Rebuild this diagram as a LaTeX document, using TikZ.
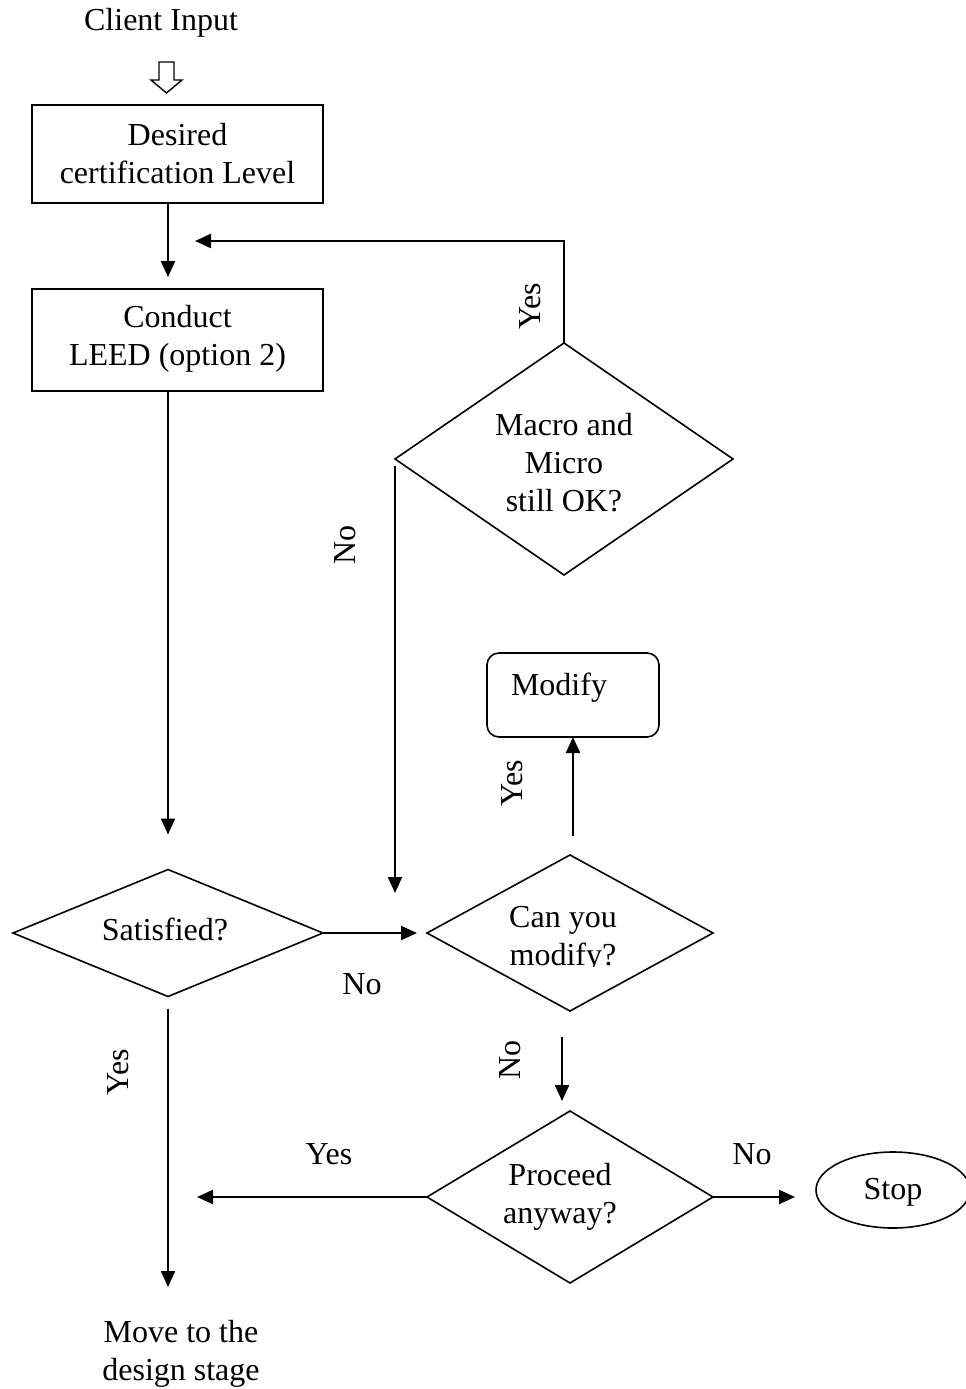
\documentclass[tikz,border=0pt]{standalone}
\usepackage{fontspec}
\setmainfont{Liberation Serif}
\usetikzlibrary{shapes.geometric,arrows.meta,calc}
\begin{document}
\begin{tikzpicture}[x=1pt,y=-1pt,
  txt/.style={font=\fontsize{32}{38}\selectfont, align=center, inner sep=0pt},
  shapeline/.style={draw=black, line width=1.6pt},
  procbox/.style={shapeline, rectangle, inner sep=0pt, outer sep=0pt},
  decision/.style={shapeline, diamond, inner sep=0pt, outer sep=0pt},
  arr/.style={line width=2.2pt, -{Triangle[length=16pt,width=14pt]}},
  lbl/.style={txt},
  vlbl/.style={txt, rotate=90}]
\useasboundingbox (0,0) rectangle (966,1389);

% start
\node[txt] (client) at (161,23) {Client Input};
\draw[shapeline, line width=1.4pt, line join=miter]
  (159,62) -- (174,62) -- (174,80) -- (182,80) -- (166.5,93) -- (151,80) -- (159,80) -- cycle;

% process boxes
\node[procbox, minimum width=291pt, minimum height=98pt] (desired) at (177.5,154) {};
\node[txt] (desiredtxt) at (177.5,154) {Desired\\certification Level};
\node[procbox, minimum width=291pt, minimum height=102pt] (conduct) at (177.5,340) {};
\node[txt] (conducttxt) at (177.5,339) {Conduct\\LEED (option 2)};

% decisions
\node[decision, minimum width=338pt, minimum height=232pt] (macro) at (564,459) {};
\node[txt] (macrotxt) at (564,463) {Macro and\\Micro\\still OK?};

\node[decision, minimum width=310pt, minimum height=127pt] (sat) at (168,933) {};
\node[txt] (sattxt) at (165,929) {Satisfied?};

\node[decision, minimum width=286pt, minimum height=156pt] (canmod) at (570,933) {};
\begin{scope}
  \clip (420,880) rectangle (720,966);
  \node[txt] (canmodtxt) at (563,939) {Can you\\modify?};
\end{scope}

\node[decision, minimum width=286pt, minimum height=172pt] (proceed) at (570,1197) {};
\node[txt] (proceedtxt) at (560,1197) {Proceed\\anyway?};

% modify box and stop
\node[procbox, rounded corners=12pt, minimum width=172pt, minimum height=84pt] (modify) at (573,695) {};
\node[txt] (modifytxt) at (559,688) {Modify};
\node[shapeline, ellipse, inner sep=0pt, outer sep=0pt, minimum width=154pt, minimum height=76pt] (stop) at (893,1190) {};
\node[txt] (stoptxt) at (893,1192) {Stop};

% end text
\node[txt] (move) at (181,1354) {Move to the\\design stage};

% free connector ends
\coordinate (fbtip) at (195,241);
\coordinate (notip) at (395,893);
\coordinate (modstart) at (573,836);
\coordinate (pstart) at (562,1037);
\coordinate (yestip) at (197,1197);
\coordinate (movetip) at (168,1287);

% connectors
\draw[arr, shorten >=12pt] (desired.south -| sat.north) -- (conduct.north -| sat.north);
\draw[arr] (macro.north) |- (fbtip);
\draw[arr, shorten >=35pt] (conduct.south -| sat.north) -- (sat.north);
\draw[arr] ([yshift=-7pt]macro.west) -- (notip);
\draw[arr, shorten >=10pt] (sat.east) -- (canmod.west);
\draw[arr] (modstart) -- (modify.south);
\draw[arr, shorten >=10pt] (pstart) -- (pstart |- proceed.north);
\draw[arr] (proceed.west) -- (yestip);
\draw[arr, shorten >=21pt] (proceed.east) -- (proceed.east -| stop.west);
\draw[arr] ([yshift=-12pt]sat.south) -- (movetip);

% branch labels
\node[vlbl] (l1) at (530,306) {Yes};
\node[vlbl] (l2) at (345,545) {No};
\node[lbl] (l3) at (362,984) {No};
\node[vlbl] (l4) at (512,783) {Yes};
\node[vlbl] (l5) at (510,1060) {No};
\node[lbl] (l6) at (329,1154) {Yes};
\node[lbl] (l7) at (752,1154) {No};
\node[vlbl] (l8) at (118,1072) {Yes};
\end{tikzpicture}
\end{document}
